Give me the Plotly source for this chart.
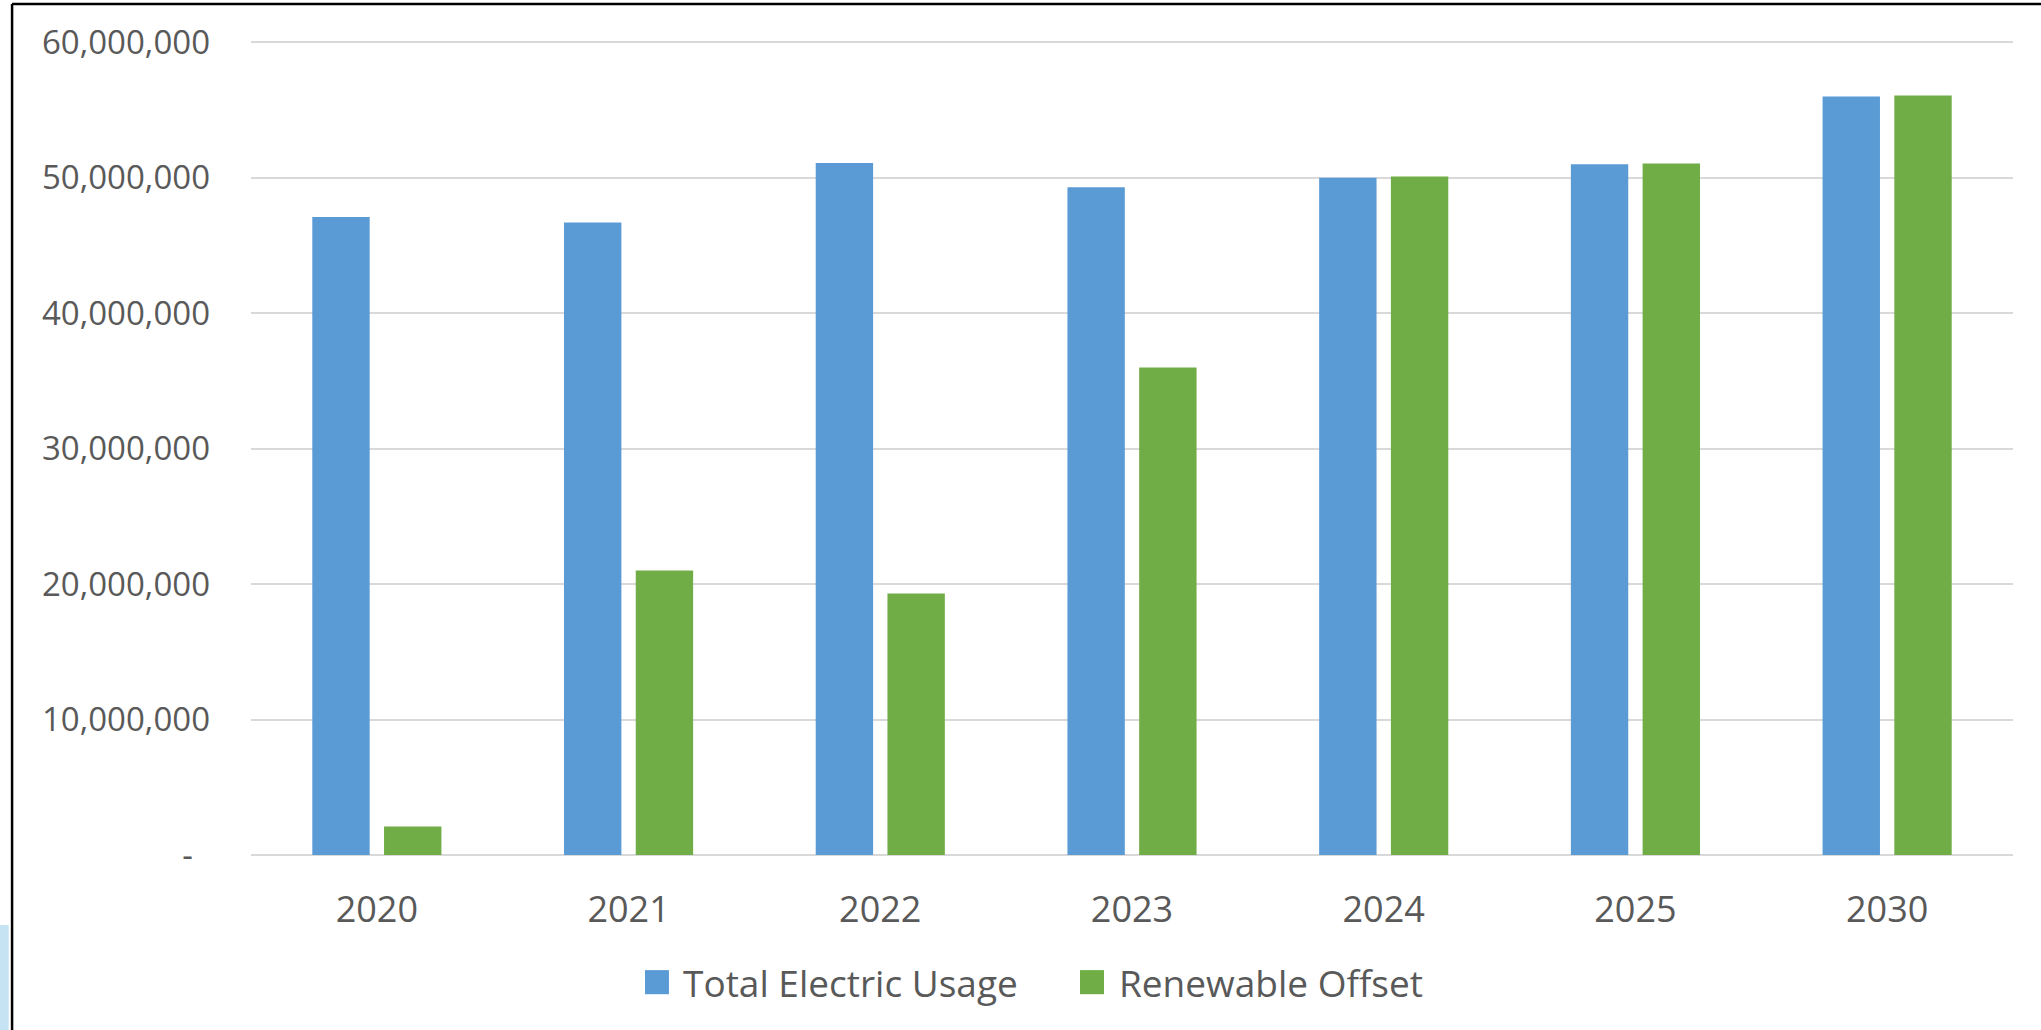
import plotly.graph_objects as go

years = ["2020", "2021", "2022", "2023", "2024", "2025", "2030"]
total_usage = [47100000, 46700000, 51100000, 49300000, 50000000, 51000000, 56000000]
renewable = [2100000, 21000000, 19300000, 36000000, 50100000, 51050000, 56070000]

y_ticks = [0, 10000000, 20000000, 30000000, 40000000, 50000000, 60000000]
y_labels = ["-\u00a0\u00a0", "10,000,000", "20,000,000", "30,000,000", "40,000,000", "50,000,000", "60,000,000"]

series_names = ["Total Electric Usage", "Renewable Offset"]
series_colors = ["#5B9BD5", "#70AD47"]

txt = "#595959"
fnt = "Open Sans"

fig = go.Figure()
fig.add_trace(go.Bar(x=years, y=total_usage, name=series_names[0], showlegend=False,
                     marker=dict(color=series_colors[0], line=dict(width=0))))
fig.add_trace(go.Bar(x=years, y=renewable, name=series_names[1], showlegend=False,
                     marker=dict(color=series_colors[1], line=dict(width=0))))

fig.update_layout(
    width=2041, height=1030,
    margin=dict(l=251, r=28, t=40.5, b=175),
    paper_bgcolor="white", plot_bgcolor="white",
    barmode="group", bargap=0.43, bargroupgap=0.2,
    font=dict(family=fnt, color=txt),
)
fig.update_xaxes(showgrid=False, showline=False, ticks="",
                 tickfont=dict(size=36, color=txt), ticklabelstandoff=30)
fig.update_yaxes(range=[0, 60100000], tickvals=y_ticks, ticktext=y_labels,
                 showgrid=True, gridcolor="#d9d9d9", gridwidth=2,
                 zeroline=True, zerolinecolor="#d9d9d9", zerolinewidth=2,
                 showline=False, ticks="",
                 tickfont=dict(size=33, color=txt), ticklabelstandoff=40)

# legend drawn by hand so the swatches can be as big as in the original
# (paper coords: x = (px - 251) / 1762, y = (855 - py) / 813)
leg_sq = [(0.2236, 0.2372), (0.4705, 0.4841)]
leg_tx = [0.2440, 0.4915]
for i in range(2):
    fig.add_shape(type="rect", xref="paper", yref="paper",
                  x0=leg_sq[i][0], x1=leg_sq[i][1], y0=-0.1710, y1=-0.1414,
                  fillcolor=series_colors[i], line=dict(width=0))
    fig.add_annotation(xref="paper", yref="paper", x=leg_tx[i], y=-0.1562,
                       xanchor="left", yanchor="middle", showarrow=False,
                       text=series_names[i], font=dict(size=37, color=txt, family=fnt))

# outer frame of the screenshot (left and top border) and blue strip at the lower left
fig.add_shape(type="line", xref="paper", yref="paper",
              x0=-0.1356, x1=-0.1356, y0=1.0455, y1=-0.3, line=dict(color="black", width=2.5))
fig.add_shape(type="line", xref="paper", yref="paper",
              x0=-0.1356, x1=1.02, y0=1.0455, y1=1.0455, line=dict(color="black", width=2.5))
fig.add_shape(type="rect", xref="paper", yref="paper",
              x0=-0.1435, x1=-0.1375, y0=-0.086, y1=-0.3, fillcolor="#C5E3F3", line=dict(width=0))

fig.write_html("out.html", config={"displayModeBar": False},
               post_script="document.body.style.margin='0';")
